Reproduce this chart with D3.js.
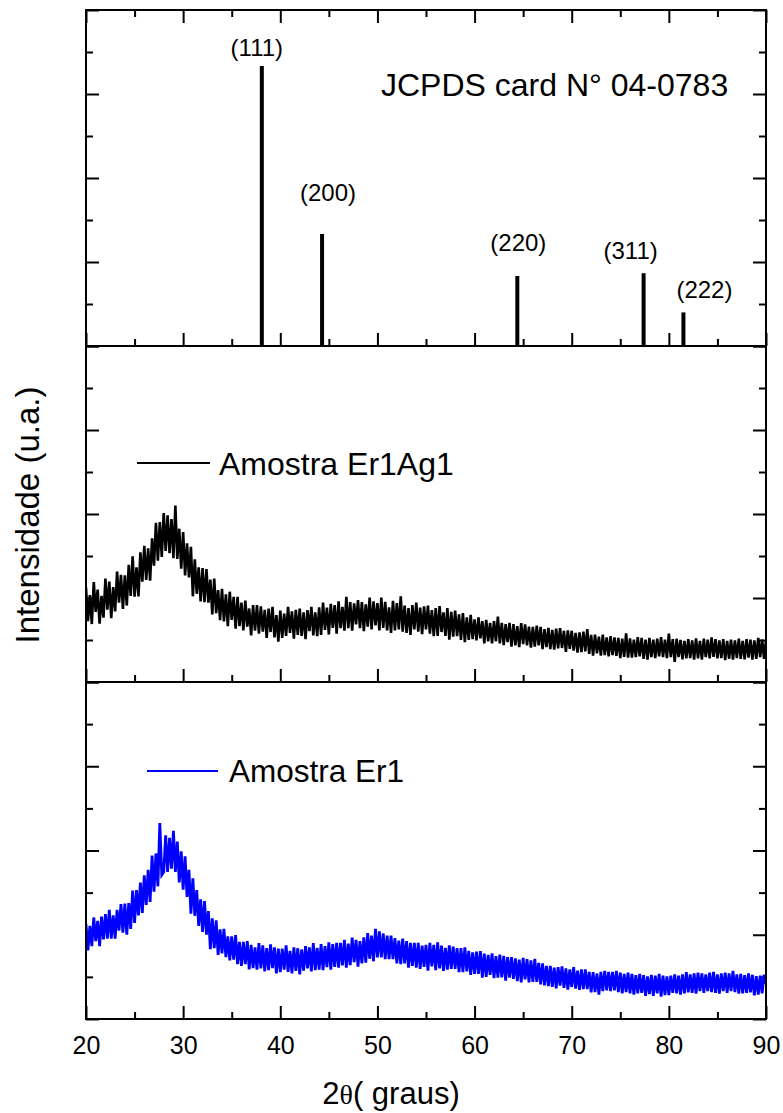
<!DOCTYPE html>
<html>
<head>
<meta charset="utf-8">
<script src="https://cdn.jsdelivr.net/npm/d3@7"></script>
<style>
  body { margin: 0; background: #fff; }
  svg { display: block; }
  text { font-family: "Liberation Sans", Arial, sans-serif; fill: #000; }
</style>
</head>
<body>
<svg id="chart" width="783" height="1113"></svg>
<script>
// Diffractometer scan: start angle and step (degrees 2θ)
const twoThetaStart = 20;
const twoThetaStep = 0.2;

// Sample Er1Ag1, intensity (a.u.), one value per step from 20° to 90°
const er1Ag1Counts = [
  225,145,207,138,238,167,220,139,205,153,
  246,172,239,152,226,168,263,189,255,174,
  254,182,279,205,299,203,273,204,309,239,
  324,243,318,241,342,277,379,289,381,298,
  402,312,397,307,388,295,420,293,365,270,
  357,254,330,249,322,204,292,210,273,192,
  271,190,269,189,244,161,246,164,219,147,
  222,144,209,133,215,148,203,127,203,133,
  189,123,194,132,175,111,183,122,183,115,
  180,120,172,105,175,119,179,106,159,96,
  170,105,163,110,179,117,168,103,172,112,
  175,110,166,102,171,121,179,111,166,109,
  178,112,189,124,177,113,186,129,183,115,
  192,128,179,122,203,128,190,122,187,137,
  195,128,190,121,185,132,201,125,192,135,
  188,123,201,129,191,123,178,117,193,123,
  188,125,204,120,182,117,176,112,183,125,
  189,120,177,114,180,125,182,115,171,109,
  176,110,181,119,166,110,176,101,167,108,
  170,109,161,100,164,95,154,100,160,102,
  149,99,154,104,145,92,148,97,141,92,
  145,97,156,92,141,88,138,95,141,84,
  138,87,133,83,140,90,137,87,132,82,
  131,84,134,87,131,78,126,83,129,78,
  124,77,127,80,128,81,122,72,123,79,
  122,75,117,70,118,71,120,73,126,67,
  112,63,113,68,108,63,113,64,106,61,
  109,64,106,62,105,57,103,60,116,58,
  104,58,101,59,107,61,105,55,101,53,
  105,59,101,57,103,61,107,59,101,57,
  115,59,102,48,103,59,100,54,98,56,
  102,57,99,53,104,56,98,53,103,59,
  101,56,106,60,102,56,99,57,102,52,
  98,55,101,53,99,57,103,55,98,54,
  102,58,101,53,99,55,105,59,101,55,
  100
];

// Sample Er1, intensity (a.u.), same angular grid
const er1Counts = [
  225,163,221,173,241,185,233,173,243,189,
  249,191,259,191,246,191,259,210,273,205,
  274,200,275,214,305,228,306,246,324,252,
  341,271,354,278,388,302,393,315,465,342,
  349,436,349,430,357,447,349,421,324,398,
  307,386,290,354,250,334,245,306,221,284,
  207,280,200,256,166,239,168,234,152,213,
  156,214,147,196,139,196,141,199,130,183,
  126,183,130,185,118,176,121,170,117,180,
  120,175,113,168,116,177,121,170,108,167,
  111,167,117,175,112,162,108,170,114,168,
  106,165,115,173,120,170,113,180,116,169,
  117,178,116,173,123,182,117,178,124,181,
  122,181,127,188,122,179,128,193,135,188,
  124,185,132,194,134,204,143,198,137,214,
  146,208,146,203,142,198,142,198,142,192,
  132,186,130,191,132,185,122,181,126,181,
  122,181,119,174,124,176,115,181,125,176,
  116,182,120,174,114,169,117,175,119,172,
  119,168,111,168,111,170,113,162,105,158,
  107,160,107,161,98,155,100,152,105,156,
  97,149,98,153,99,150,91,147,98,147,
  95,144,90,141,87,145,94,142,87,139,
  88,143,88,133,82,132,80,126,78,126,
  76,122,73,123,79,125,74,120,70,118,
  76,123,72,115,69,118,71,118,71,112,
  63,111,64,108,58,112,66,114,68,112,
  66,112,68,114,64,110,61,107,64,110,
  61,107,58,104,61,107,62,104,55,101,
  59,105,55,103,61,107,53,103,57,101,
  57,103,62,106,61,103,58,106,61,111,
  63,106,62,108,60,110,66,108,62,106,
  66,110,64,112,62,106,60,108,66,110,
  62,108,66,114,64,106,60,107,61,104,
  62,108,63,105,56,102,58,103,61,105,
  84
];

// Silver reference pattern, JCPDS card 04-0783
const refPositions = [38.1, 44.3, 64.4, 77.4, 81.5];
const refIntensities = [100, 40, 25, 26, 12];
const refLabels = ["(111)", "(200)", "(220)", "(311)", "(222)"];

// Axis ticks
const xMajorTicks = [20, 30, 40, 50, 60, 70, 80, 90];
const xMinorTicks = [25, 35, 45, 55, 65, 75, 85];
const xTickLabels = ["20", "30", "40", "50", "60", "70", "80", "90"];
const refMajorTicks = [0, 30, 60, 90, 120];
const refMinorTicks = [15, 45, 75, 105];
const scanMajorTicks = [0, 200, 400, 600, 800];
const scanMinorTicks = [100, 300, 500, 700];

// ---- layout ----
const left = 86, right = 766;
const panels = [
  { top: 10, bottom: 346 },
  { top: 346, bottom: 682 },
  { top: 682, bottom: 1019 }
];
const MAJOR = 13, MINOR = 7;

// label offsets (px) from the top of each reference bar
const refLabelOffsets = [[-5, -10], [6, -33], [1, -25], [-13, -14], [21, -14]];

const svg = d3.select("#chart");

const x = d3.scaleLinear().domain([20, 90]).range([left, right]);
const yRef = d3.scaleLinear().domain([0, 120]).range([panels[0].bottom, panels[0].top]);
const yMid = d3.scaleLinear().domain([0, 800]).range([panels[1].bottom, panels[1].top]);
const yBot = d3.scaleLinear().domain([0, 800]).range([panels[2].bottom, panels[2].top]);

const toPoints = counts => counts.map((c, i) => [twoThetaStart + i * twoThetaStep, c]);

// clip paths per panel
const defs = svg.append("defs");
panels.forEach((p, i) => {
  defs.append("clipPath").attr("id", "clip" + i)
    .append("rect").attr("x", left).attr("y", p.top)
    .attr("width", right - left).attr("height", p.bottom - p.top);
});

// ---- ticks ----
function xTicksAt(yPos, dir, labels) {
  // dir: +1 ticks pointing down, -1 ticks pointing up
  const mk = (vals, len, withLabels) => {
    const ax = (dir > 0 ? d3.axisTop(x) : d3.axisBottom(x))
      .tickValues(vals).tickSize(-len).tickPadding(0)
      .tickFormat(withLabels ? (d => xTickLabels[xMajorTicks.indexOf(d)]) : "");
    const g = svg.append("g").attr("transform", `translate(0,${yPos})`).call(ax);
    g.select(".domain").remove();
    g.selectAll(".tick line").attr("stroke", "#000").attr("stroke-width", 2);
    return g;
  };
  mk(xMinorTicks, MINOR, false);
  const g = mk(xMajorTicks, MAJOR, labels);
  if (labels) {
    g.selectAll(".tick text")
      .attr("y", 35).attr("dy", 0)
      .style("font-size", "25px")
      .style("font-family", '"Liberation Sans", Arial, sans-serif')
      .attr("fill", "#000");
  }
}

function yTicksFor(scale, majors, minors) {
  [[majors, MAJOR], [minors, MINOR]].forEach(([vals, len]) => {
    const gl = svg.append("g").attr("transform", `translate(${left},0)`)
      .call(d3.axisLeft(scale).tickValues(vals).tickSize(-len).tickFormat(""));
    const gr = svg.append("g").attr("transform", `translate(${right},0)`)
      .call(d3.axisRight(scale).tickValues(vals).tickSize(-len).tickFormat(""));
    [gl, gr].forEach(g => {
      g.select(".domain").remove();
      g.selectAll(".tick line").attr("stroke", "#000").attr("stroke-width", 2);
    });
  });
}

xTicksAt(panels[0].top, 1, false);
xTicksAt(panels[0].bottom, -1, false);
xTicksAt(panels[1].bottom, -1, false);
xTicksAt(panels[2].bottom, -1, true);
yTicksFor(yRef, refMajorTicks, refMinorTicks);
yTicksFor(yMid, scanMajorTicks, scanMinorTicks);
yTicksFor(yBot, scanMajorTicks, scanMinorTicks);

// ---- reference bars ----
const refG = svg.append("g").attr("clip-path", "url(#clip0)");
refG.selectAll("line.bar").data(refPositions).join("line")
  .attr("class", "bar")
  .attr("x1", d => x(d)).attr("x2", d => x(d))
  .attr("y1", yRef(0)).attr("y2", (d, i) => yRef(refIntensities[i]))
  .attr("stroke", "#000").attr("stroke-width", 4);

svg.selectAll("text.hkl").data(refPositions).join("text")
  .attr("class", "hkl")
  .attr("x", (d, i) => x(d) + refLabelOffsets[i][0])
  .attr("y", (d, i) => yRef(refIntensities[i]) + refLabelOffsets[i][1])
  .attr("text-anchor", "middle")
  .style("font-size", "24px")
  .text((d, i) => refLabels[i]);

svg.append("text").attr("x", 381).attr("y", 96)
  .style("font-size", "32px")
  .text("JCPDS card N° 04-0783");

// ---- scans ----
const lineMid = d3.line().x(d => x(d[0])).y(d => yMid(d[1]));
const lineBot = d3.line().x(d => x(d[0])).y(d => yBot(d[1]));

svg.append("path").attr("clip-path", "url(#clip1)")
  .attr("d", lineMid(toPoints(er1Ag1Counts)))
  .attr("fill", "none").attr("stroke", "#000").attr("stroke-width", 2.6)
  .attr("stroke-linejoin", "miter");

svg.append("path").attr("clip-path", "url(#clip2)")
  .attr("d", lineBot(toPoints(er1Counts)))
  .attr("fill", "none").attr("stroke", "#0000ff").attr("stroke-width", 2.8)
  .attr("stroke-linejoin", "miter");

// ---- legends ----
svg.append("line").attr("x1", 137).attr("x2", 210).attr("y1", 463).attr("y2", 463)
  .attr("stroke", "#000").attr("stroke-width", 2);
svg.append("text").attr("x", 219).attr("y", 475).style("font-size", "32px")
  .text("Amostra Er1Ag1");

svg.append("line").attr("x1", 147).attr("x2", 218).attr("y1", 771).attr("y2", 771)
  .attr("stroke", "#0000ff").attr("stroke-width", 2);
svg.append("text").attr("x", 229).attr("y", 782).style("font-size", "31.5px")
  .text("Amostra Er1");

// ---- frames ----
panels.forEach(p => {
  svg.append("rect").attr("x", left).attr("y", p.top)
    .attr("width", right - left).attr("height", p.bottom - p.top)
    .attr("fill", "none").attr("stroke", "#000").attr("stroke-width", 2);
});

// ---- axis titles ----
svg.append("text")
  .attr("transform", "translate(39,515) rotate(-90)")
  .attr("text-anchor", "middle")
  .style("font-size", "33px")
  .text("Intensidade (u.a.)");

const xt = svg.append("text").attr("x", 391).attr("y", 1104)
  .attr("text-anchor", "middle").style("font-size", "31px");
xt.append("tspan").text("2");
xt.append("tspan").style("font-family", '"Liberation Serif", "DejaVu Serif", serif')
  .style("font-size", "28px").text("θ");
xt.append("tspan").text("( graus)");
</script>
</body>
</html>
